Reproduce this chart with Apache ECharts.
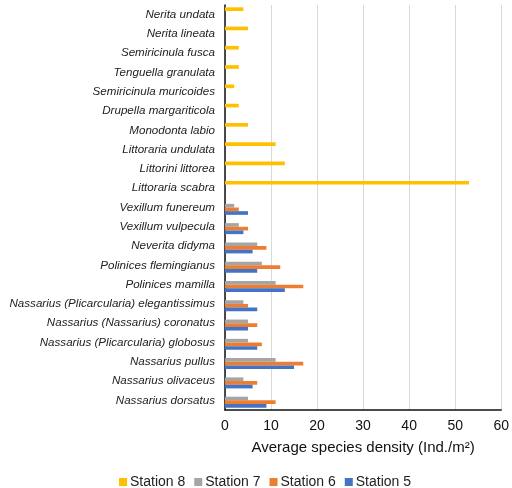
<!DOCTYPE html>
<html>
<head>
<meta charset="utf-8">
<script src="https://cdn.jsdelivr.net/npm/echarts@6/dist/echarts.min.js"></script>
<style>
html, body { margin: 0; padding: 0; background: #fff; }
#chart { width: 512px; height: 488px; }
</style>
</head>
<body>
<div id="chart"></div>
<script>
// species, top to bottom as in the picture
var species = [
	'Nerita undata', 'Nerita lineata', 'Semiricinula fusca', 'Tenguella granulata',
	'Semiricinula muricoides', 'Drupella margariticola', 'Monodonta labio',
	'Littoraria undulata', 'Littorini littorea', 'Littoraria scabra',
	'Vexillum funereum', 'Vexillum vulpecula', 'Neverita didyma',
	'Polinices flemingianus', 'Polinices mamilla',
	'Nassarius (Plicarcularia) elegantissimus', 'Nassarius (Nassarius) coronatus',
	'Nassarius (Plicarcularia) globosus', 'Nassarius pullus',
	'Nassarius olivaceus', 'Nassarius dorsatus'
];
var station8 = [4, 5, 3, 3, 2, 3, 5, 11, 13, 53, 0, 0, 0, 0, 0, 0, 0, 0, 0, 0, 0];
var station7 = [0, 0, 0, 0, 0, 0, 0, 0, 0, 0, 2, 3, 7, 8, 11, 4, 5, 5, 11, 4, 5];
var station6 = [0, 0, 0, 0, 0, 0, 0, 0, 0, 0, 3, 5, 9, 12, 17, 5, 7, 8, 17, 7, 11];
var station5 = [0, 0, 0, 0, 0, 0, 0, 0, 0, 0, 5, 4, 6, 7, 13, 7, 5, 7, 15, 6, 9];
var xTicks = [0, 10, 20, 30, 40, 50, 60];

function serie(name, arr, color) {
	return {
		name: name,
		type: 'bar',
		data: arr,
		barGap: '0%',
		barCategoryGap: '24%',
		itemStyle: { color: color }
	};
}

var myChart = echarts.init(document.getElementById('chart'));
var option = {
	animation: false,
	textStyle: { fontFamily: 'Liberation Sans' },
	grid: { left: 225, right: 8, top: 5, bottom: 78 },
	legend: {
		data: ['Station 8', 'Station 7', 'Station 6', 'Station 5'],
		top: 470,
		left: 114,
		icon: 'rect',
		itemWidth: 8,
		itemHeight: 8,
		itemGap: 9,
		textStyle: { fontSize: 14, color: '#222', padding: [0, 0, 0, -2] }
	},
	xAxis: {
		type: 'value',
		min: xTicks[0],
		max: xTicks[xTicks.length - 1],
		interval: 10,
		name: 'Average species density (Ind./m²)',
		nameLocation: 'middle',
		nameGap: 30,
		nameTextStyle: { fontSize: 15, color: '#111' },
		axisLine: { show: true, lineStyle: { color: '#111', width: 1.5 } },
		axisTick: { show: false },
		axisLabel: { fontSize: 14, color: '#111', margin: 9 },
		splitLine: { show: true, lineStyle: { color: '#d9d9d9', width: 1 } }
	},
	yAxis: {
		type: 'category',
		data: species,
		inverse: true,
		axisLine: { show: true, lineStyle: { color: '#111', width: 1.5 } },
		axisTick: { show: false },
		axisLabel: { fontSize: 11.6, fontStyle: 'italic', color: '#222', margin: 10 }
	},
	series: [
		serie('Station 8', station8, '#FFC000'),
		serie('Station 7', station7, '#A5A5A5'),
		serie('Station 6', station6, '#ED7D31'),
		serie('Station 5', station5, '#4472C4')
	]
};
myChart.setOption(option);
</script>
</body>
</html>
